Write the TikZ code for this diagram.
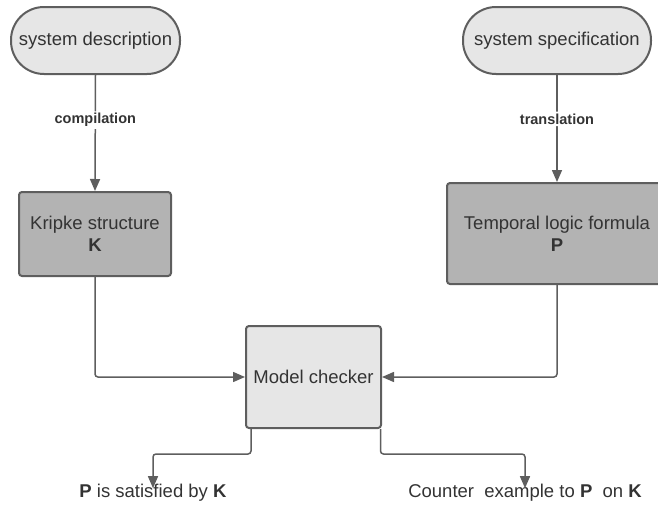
\documentclass[tikz,border=0pt]{standalone}
\usepackage{fontspec}
\setmainfont{Liberation Sans}
\usetikzlibrary{arrows.meta}
\definecolor{txt}{HTML}{333333}
\definecolor{edge}{HTML}{5E5E5E}
\definecolor{lightfill}{HTML}{E6E6E6}
\definecolor{darkfill}{HTML}{B3B3B3}
\begin{document}
\begin{tikzpicture}[x=1pt,y=-1pt,
  every node/.style={text=txt, font=\fontsize{18.5}{22}\selectfont},
  pill/.style={draw=edge, line width=2pt, fill=lightfill, rounded corners=33pt,
    minimum height=67pt, inner sep=0pt},
  box/.style={draw=edge, line width=2pt, rounded corners=3pt, inner sep=0pt, align=center},
  flow/.style={draw=edge, line width=1.5pt, rounded corners=3pt,
    -{Triangle[length=12pt,width=10pt]}},
  tag/.style={fill=white, inner sep=2pt, font=\fontsize{14.5}{17}\selectfont\bfseries},
  result/.style={inner sep=0pt}
]
\useasboundingbox (0,0) rectangle (658,506);
\clip (0,0) rectangle (658,506);

% sources
\node[pill, minimum width=169pt] (desc) at (95.5,40.5) {system description};
\node[pill, minimum width=188pt] (spec) at (557,40.5) {system specification};

% intermediate structures
\node[box, fill=darkfill, minimum width=152pt, minimum height=84pt] (kripke) at (95,234)
  {Kripke structure\\\textbf{K}};
\node[box, fill=darkfill, minimum width=220pt, minimum height=101pt] (ltl) at (557,233.5)
  {Temporal logic formula\\\textbf{P}};

% checker
\node[box, fill=lightfill, minimum width=135pt, minimum height=102pt] (mc) at (313.5,377)
  {Model checker};

% outcomes
\node[result] (sat) at (153,493) {\textbf{P} is satisfied by \textbf{K}};
\node[result] (cex) at (525,493) {Counter\ \ example to \textbf{P}\ \ on \textbf{K}};

% connectors
\draw[flow] (desc.south) -- (kripke.north) node[tag, pos=0.39] {compilation};
\draw[flow] (spec.south) -- (ltl.north) node[tag, pos=0.41] {translation};
\draw[flow] (kripke.south) |- (mc.west);
\draw[flow] (ltl.south) |- (mc.east);

\coordinate (mcbl) at ([xshift=6pt]mc.south west);
\coordinate (mcbr) at ([xshift=-1.5pt]mc.south east);
\draw[flow] (mcbl) -- ++(0,25) -| ([yshift=-4pt]sat.north);
\draw[flow] (mcbr) -- ++(0,25) -| ([yshift=-4pt]cex.north);
\end{tikzpicture}
\end{document}
